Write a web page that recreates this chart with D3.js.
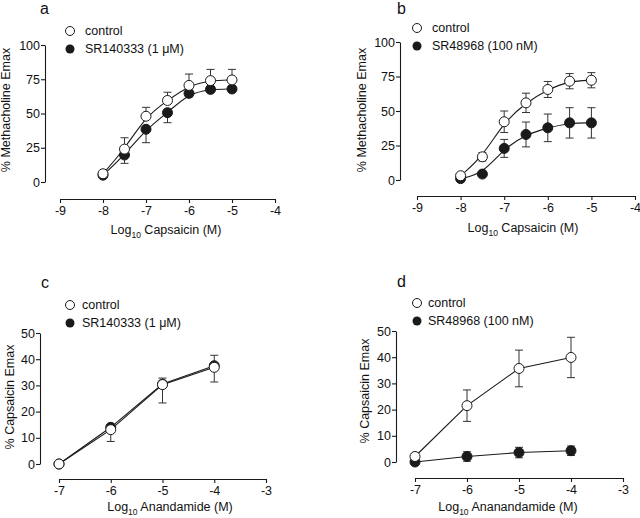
<!DOCTYPE html>
<html><head><meta charset="utf-8">
<script src="https://cdn.jsdelivr.net/npm/d3@7"></script>
<style>body{margin:0;background:#fff}svg{display:block}text{font-family:"Liberation Sans",Arial,sans-serif;fill:#111}</style>
</head><body>
<svg id="c" width="640" height="518"></svg>
<script>
// ---- data ----
const capsaicinX = [-8, -7.5, -7, -6.5, -6, -5.5, -5];
const anandamideX = [-7, -6, -5, -4];

const aControl    = [6, 24, 48, 59.5, 70.5, 74, 74.5];
const aControlErr = [0, 8.3, 6.5, 6, 8.3, 8.2, 7.7];
const aSR         = [5, 19.7, 38.5, 50.6, 64.7, 67.6, 67.9];
const aSRErr      = [0, 6.1, 9.8, 7.3, 2.5, 1.5, 1.5];

const bControl    = [3.1, 16.8, 42.2, 55.9, 65.6, 71.6, 72.3];
const bControlErr = [1.5, 3, 7.8, 7, 5.8, 5.5, 5.5];
const bSR         = [1, 4.3, 22.9, 33, 37.8, 41.4, 41.4];
const bSRErr      = [0.5, 1, 6.5, 9, 10, 11, 11];

const cControl    = [0, 13.1, 30.3, 36.9];
const cControlErr = [0, 4.5, 7, 5.6];
const cSR         = [0, 14, 30.5, 37.5];
const cSRErr      = [0, 0.8, 2.3, 4];

const dControl    = [2.1, 21.5, 35.7, 39.9];
const dControlErr = [0.8, 6, 7, 7.7];
const dSR         = [0, 2.1, 3.6, 4.3];
const dSRErr      = [0, 1.8, 2, 1.8];

const capsaicinTicks = [-9, -8, -7, -6, -5, -4];
const anandamideTicks = [-7, -6, -5, -4, -3];
const methTicks = [0, 25, 50, 75, 100];
const capsTicks = [0, 10, 20, 30, 40, 50];

const panels = [
  {letter:"a", lx:40, ly:14, yAxisX:45, yr:[182,45], yd:[0,100], yTicks:methTicks,
   xr:[60,275], xd:[-9,-4], xTicks:capsaicinTicks, xAxisY:199, xs:capsaicinX,
   ylabel:"% Methacholine Emax", ylx:10, yly:110, xlabel:["Log","10"," Capsaicin (M)"], xlx:166, xly:234,
   legX:70, legY:31, legTx:85, drug:"SR140333 (1 \u03bcM)", curve:true,
   ctrl:aControl, ctrlErr:aControlErr, ctrlDir:"up", sr:aSR, srErr:aSRErr, srDir:"down"},
  {letter:"b", lx:397, ly:14, yAxisX:400, yr:[180,42], yd:[0,100], yTicks:methTicks,
   xr:[417,635], xd:[-9,-4], xTicks:capsaicinTicks, xAxisY:196, xs:capsaicinX,
   ylabel:"% Methacholine Emax", ylx:366, yly:110, xlabel:["Log","10"," Capsaicin (M)"], xlx:523, xly:232,
   legX:417, legY:28, legTx:432, drug:"SR48968 (100 nM)", curve:true,
   ctrl:bControl, ctrlErr:bControlErr, ctrlDir:"both", sr:bSR, srErr:bSRErr, srDir:"both"},
  {letter:"c", lx:41, ly:288, yAxisX:40, yr:[464,333], yd:[0,50], yTicks:capsTicks,
   xr:[59,266], xd:[-7,-3], xTicks:anandamideTicks, xAxisY:479, xs:anandamideX,
   ylabel:"% Capsaicin Emax", ylx:14, yly:397, xlabel:["Log","10"," Anandamide (M)"], xlx:170, xly:511,
   legX:70, legY:305, legTx:82, drug:"SR140333 (1 \u03bcM)", curve:false,
   ctrl:cControl, ctrlErr:cControlErr, ctrlDir:"down", sr:cSR, srErr:cSRErr, srDir:"up"},
  {letter:"d", lx:397, ly:287, yAxisX:396, yr:[462,331], yd:[0,50], yTicks:capsTicks,
   xr:[415,623], xd:[-7,-3], xTicks:anandamideTicks, xAxisY:478, xs:anandamideX,
   ylabel:"% Capsaicin Emax", ylx:369, yly:391, xlabel:["Log","10"," Ananandamide (M)"], xlx:508, xly:511,
   legX:417, legY:303, legTx:428, drug:"SR48968 (100 nM)", curve:false,
   ctrl:dControl, ctrlErr:dControlErr, ctrlDir:"both", sr:dSR, srErr:dSRErr, srDir:"both"}
];

const svg = d3.select("#c");
const ink = "#1a1a1a";
const FS = 12.5;

panels.forEach(p => {
  const g = svg.append("g");
  const x = d3.scaleLinear().domain(p.xd).range(p.xr);
  const y = d3.scaleLinear().domain(p.yd).range(p.yr);

  // axes
  const ya = g.append("g").attr("transform", `translate(${p.yAxisX},0)`)
    .call(d3.axisLeft(y).tickValues(p.yTicks).tickSize(4).tickPadding(1).tickSizeOuter(0));
  const xa = g.append("g").attr("transform", `translate(0,${p.xAxisY})`)
    .call(d3.axisBottom(x).tickValues(p.xTicks).tickSize(4).tickPadding(3).tickSizeOuter(0)
      .tickFormat(d => d3.format("d")(d).replace("\u2212","-")));
  [ya, xa].forEach(a => {
    a.select(".domain").attr("stroke", ink).attr("stroke-width", 1.1);
    a.selectAll(".tick line").attr("stroke", ink).attr("stroke-width", 1.1);
    a.selectAll(".tick text").attr("font-size", FS).attr("fill", "#111")
      .attr("font-family", '"Liberation Sans",Arial,sans-serif');
  });

  // letter
  g.append("text").attr("x", p.lx).attr("y", p.ly).attr("font-size", 16).text(p.letter);

  // y label
  g.append("text").attr("transform", `translate(${p.ylx},${p.yly}) rotate(-90)`)
    .attr("text-anchor", "middle").attr("font-size", FS).text(p.ylabel);

  // x label with subscript
  const xl = g.append("text").attr("x", p.xlx).attr("y", p.xly).attr("text-anchor", "middle").attr("font-size", FS);
  xl.append("tspan").text(p.xlabel[0]);
  xl.append("tspan").attr("font-size", 8.5).attr("dy", 4).text(p.xlabel[1]);
  xl.append("tspan").attr("dy", -4).text(p.xlabel[2]);

  // legend
  g.append("circle").attr("cx", p.legX).attr("cy", p.legY).attr("r", 4.5)
    .attr("fill", "#fff").attr("stroke", ink).attr("stroke-width", 1);
  g.append("text").attr("x", p.legTx).attr("y", p.legY + 4).attr("font-size", FS).text("control");
  g.append("circle").attr("cx", p.legX).attr("cy", p.legY + 18).attr("r", 4.5).attr("fill", ink);
  g.append("text").attr("x", p.legTx).attr("y", p.legY + 22).attr("font-size", FS).text(p.drug);

  const line = d3.line().x((d, i) => x(p.xs[i])).y(d => y(d))
    .curve(p.curve ? d3.curveBasis : d3.curveLinear);

  const series = [
    {vals:p.sr, err:p.srErr, dir:p.srDir, open:false},
    {vals:p.ctrl, err:p.ctrlErr, dir:p.ctrlDir, open:true}
  ];
  // lines
  series.forEach(s => {
    g.append("path").datum(s.vals).attr("d", line).attr("fill", "none")
      .attr("stroke", ink).attr("stroke-width", 1.1);
  });
  // error bars
  series.forEach(s => {
    s.vals.forEach((v, i) => {
      if (!s.err[i]) return;
      const cx = x(p.xs[i]);
      const hi = s.dir === "down" ? v : v + s.err[i];
      const lo = s.dir === "up" ? v : v - s.err[i];
      g.append("line").attr("x1", cx).attr("x2", cx).attr("y1", y(hi)).attr("y2", y(lo))
        .attr("stroke", "#333").attr("stroke-width", 1);
      if (s.dir !== "down")
        g.append("line").attr("x1", cx - 4).attr("x2", cx + 4).attr("y1", y(hi)).attr("y2", y(hi))
          .attr("stroke", "#333").attr("stroke-width", 1);
      if (s.dir !== "up")
        g.append("line").attr("x1", cx - 4).attr("x2", cx + 4).attr("y1", y(lo)).attr("y2", y(lo))
          .attr("stroke", "#333").attr("stroke-width", 1);
    });
  });
  // points
  series.forEach(s => {
    g.selectAll(null).data(s.vals).enter().append("circle")
      .attr("cx", (d, i) => x(p.xs[i])).attr("cy", d => y(d)).attr("r", 5)
      .attr("fill", s.open ? "#fff" : ink).attr("stroke", ink).attr("stroke-width", 1);
  });
});
</script>
</body></html>
